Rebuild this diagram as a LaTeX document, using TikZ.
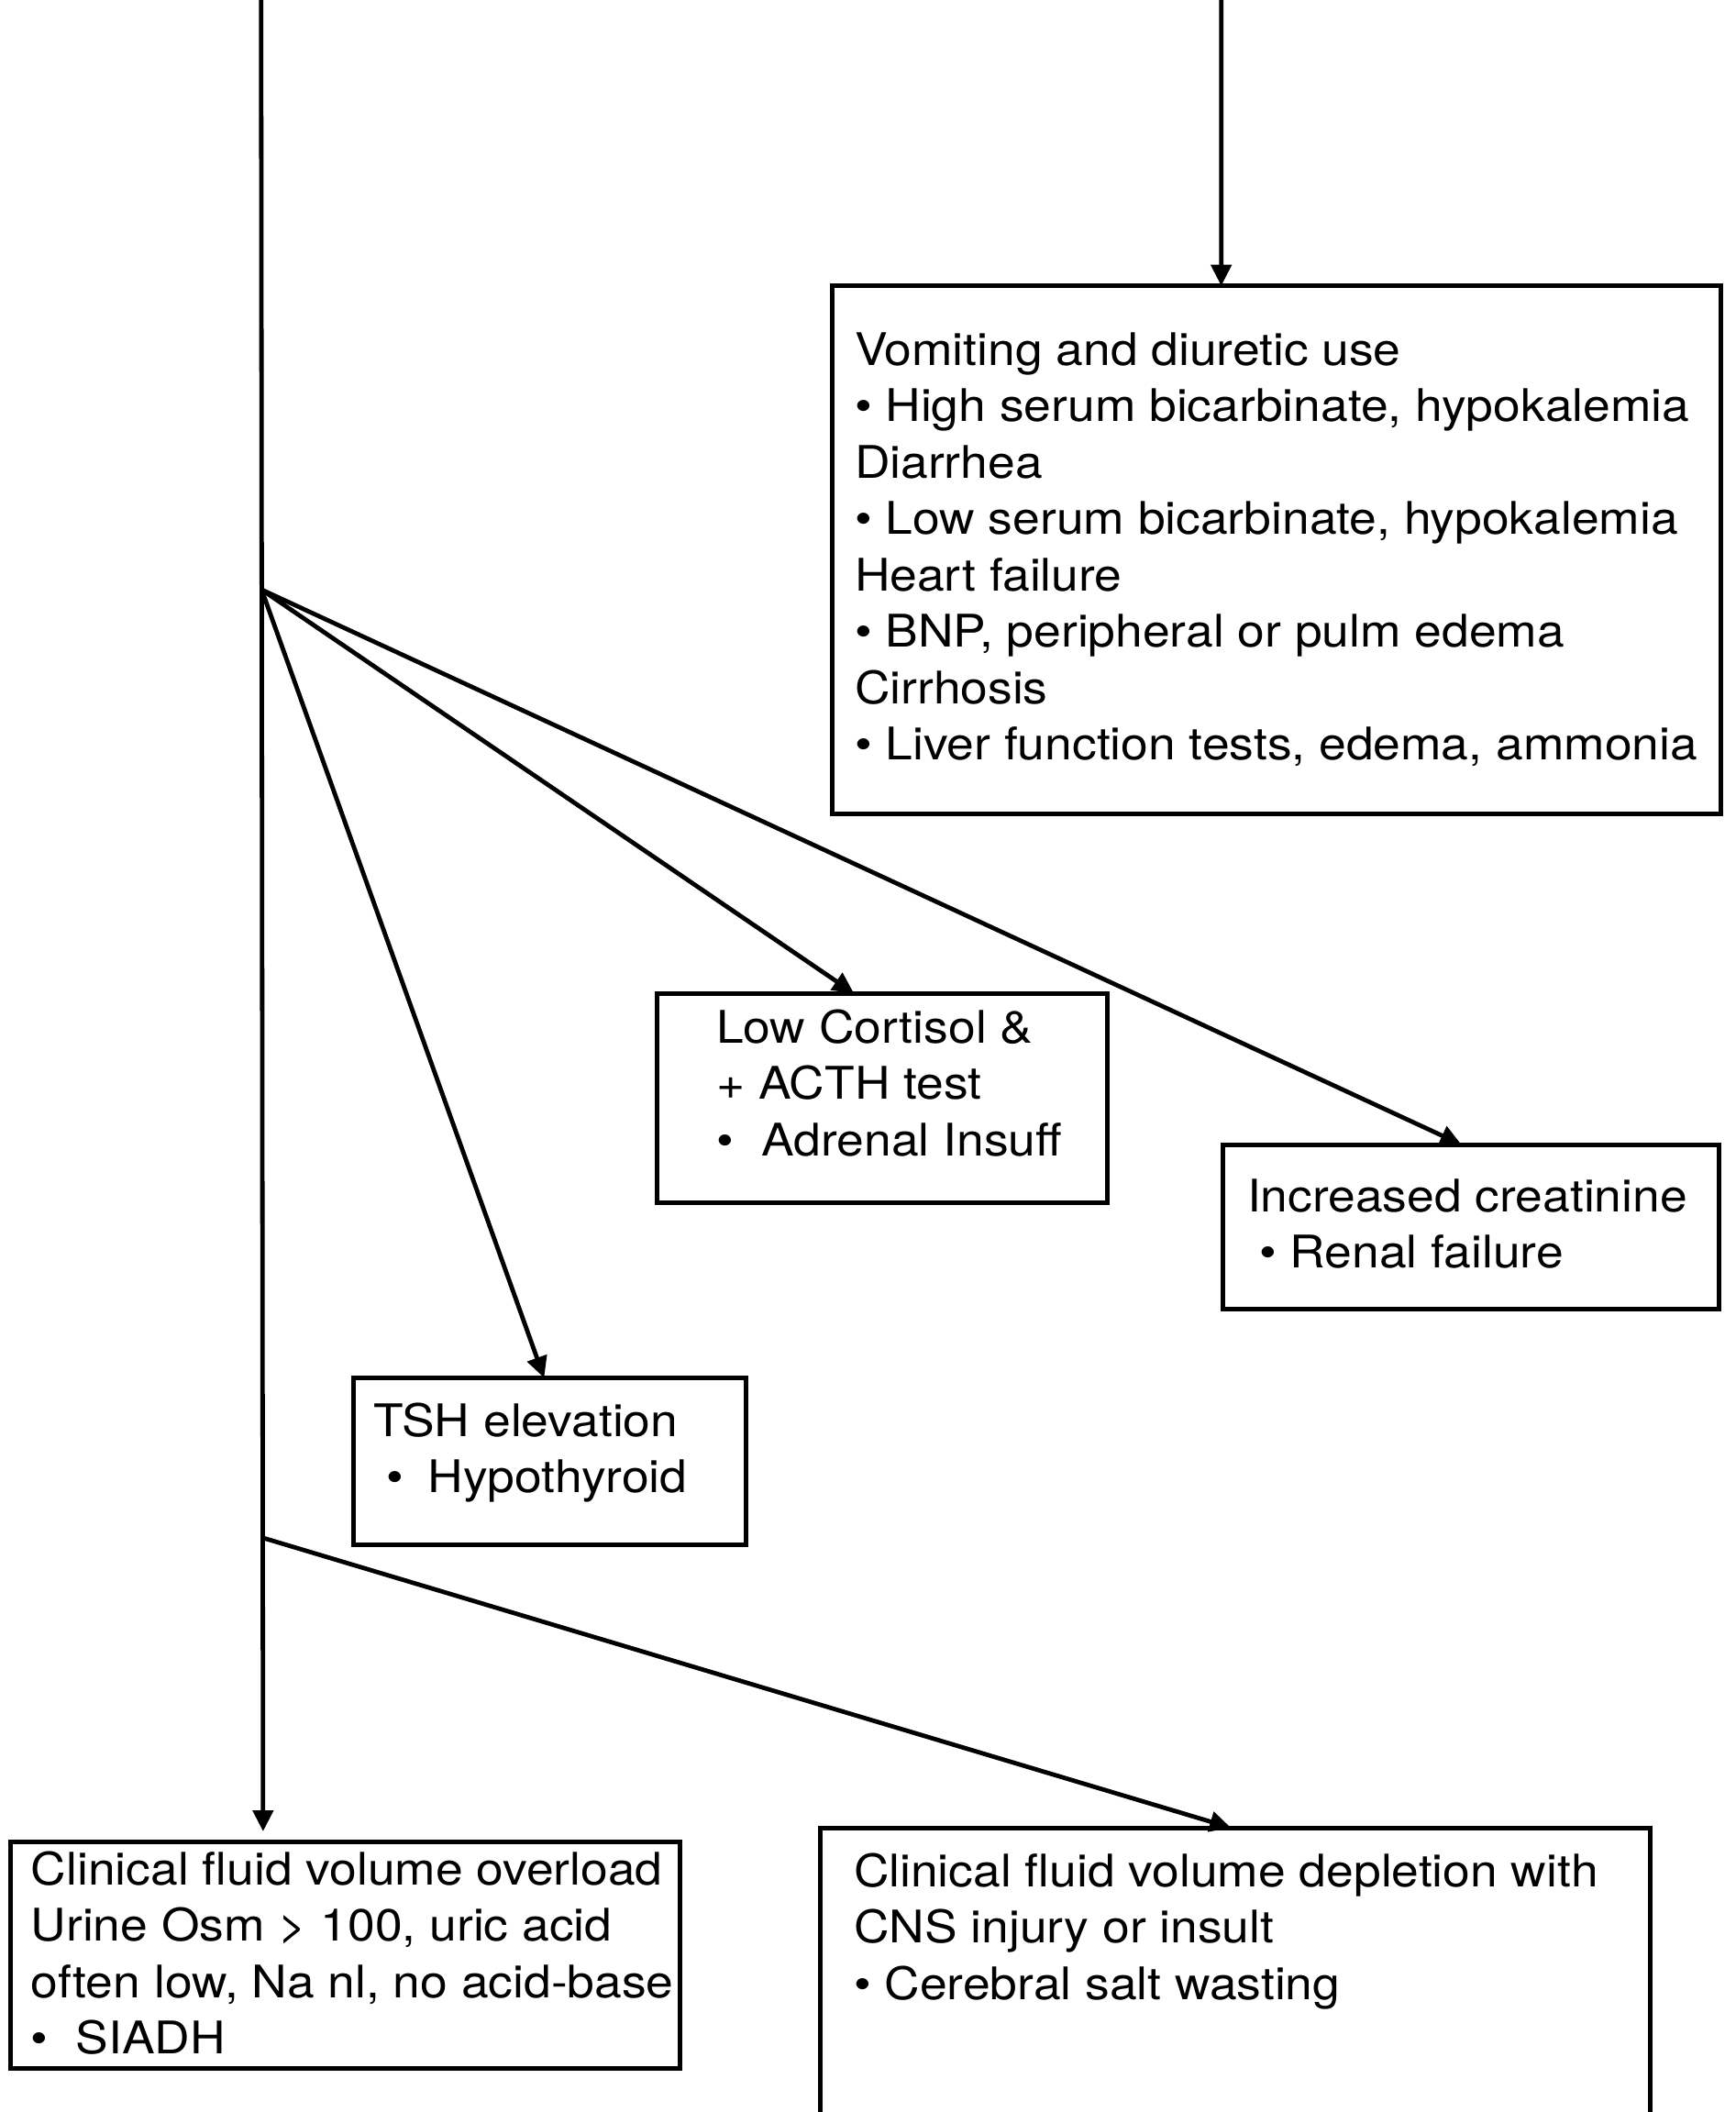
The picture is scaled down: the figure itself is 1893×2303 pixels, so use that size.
\documentclass[tikz,border=0pt]{standalone}
\usepackage{fontspec}
\setmainfont{TeX Gyre Heros}[FakeStretch=1.09]
\usetikzlibrary{arrows.meta,calc}
\newcommand\txtblock[1]{\vtop{\baselineskip=61.5pt\lineskiplimit=-200pt #1}}
\tikzset{
  box/.style={draw, line width=5pt, rectangle, anchor=north west, inner sep=0pt, outer sep=0pt},
  txt/.style={anchor=base west, inner sep=0pt, outer sep=0pt, font=\fontsize{49}{61.5}\selectfont},
  arr/.style={line width=4.8pt, -{Triangle[length=23pt,width=22pt]}},
}
\begin{document}
\begin{tikzpicture}[x=1pt,y=-1pt]
\useasboundingbox (0,0) rectangle (1893,2303);
\clip (0,0) rectangle (1893,2303);
% boxes
\node[box, minimum width=969.3pt, minimum height=575.3pt] (tr) at (907.6,311.7) {};
\node[box, minimum width=491pt, minimum height=228pt] (lc) at (716,1083) {};
\node[box, minimum width=540.5pt, minimum height=179.5pt] (cr) at (1333.5,1248) {};
\node[box, minimum width=428.6pt, minimum height=182pt] (tsh) at (385,1502.4) {};
\node[box, minimum width=729.9pt, minimum height=247.8pt] (ov) at (11.7,2008) {};
\node[box, minimum width=904.6pt, minimum height=450pt] (dp) at (894.4,1993) {};
% texts
\node[txt] (trt) at (932,398) {\txtblock{%
\hbox{Vomiting and diuretic use}
\hbox{• High serum bicarbinate, hypokalemia}
\hbox{Diarrhea}
\hbox{• Low serum bicarbinate, hypokalemia}
\hbox{Heart failure}
\hbox{• BNP, peripheral or pulm edema}
\hbox{Cirrhosis}
\hbox{• Liver function tests, edema, ammonia}}};
\node[txt] (lct) at (781,1137) {\txtblock{%
\hbox{Low Cortisol \&}
\hbox{+ ACTH test}
\hbox{•\hspace{31pt}Adrenal Insuff}}};
\node[txt] (crt) at (1360,1321) {\txtblock{%
\hbox{Increased creatinine}
\hbox{\hspace{13pt}• Renal failure}}};
\node[txt] (tsht) at (407,1566) {\txtblock{%
\hbox{TSH elevation}
\hbox{\hspace{14pt}•\hspace{27pt}Hypothyroid}}};
\node[txt] (ovt) at (34,2055) {\txtblock{%
\hbox{Clinical fluid volume overload}
\hbox{Urine Osm > 100, uric acid}
\hbox{often low, Na nl, no acid-base}
\hbox{•\hspace{30pt}SIADH}}};
\node[txt] (dpt) at (931,2057) {\txtblock{%
\hbox{Clinical fluid volume depletion with}
\hbox{CNS injury or insult}
\hbox{• Cerebral salt wasting}}};
% connectors
\coordinate (ltop) at (284.7,-10);
\coordinate (rtop) at (1331.7,-10);
\coordinate (b1) at (285.3,643);
\coordinate (b2) at (287,1677);
\draw[arr] (rtop) -- ($(tr.north west)!0.4375!(tr.north east)$);
\draw[arr, shorten >=11pt] (ltop) -- ($(ov.north west)!0.377!(ov.north east)$);
\draw[arr] (b1) -- ($(tsh.north west)!0.486!(tsh.north east)$);
\draw[arr] (b1) -- ($(lc.north west)!0.438!(lc.north east)$);
\draw[arr] (b1) -- ($(cr.north west)!0.481!(cr.north east)$);
\draw[arr] (b2) -- ($(dp.north west)!0.495!(dp.north east)$);
\end{tikzpicture}
\end{document}
